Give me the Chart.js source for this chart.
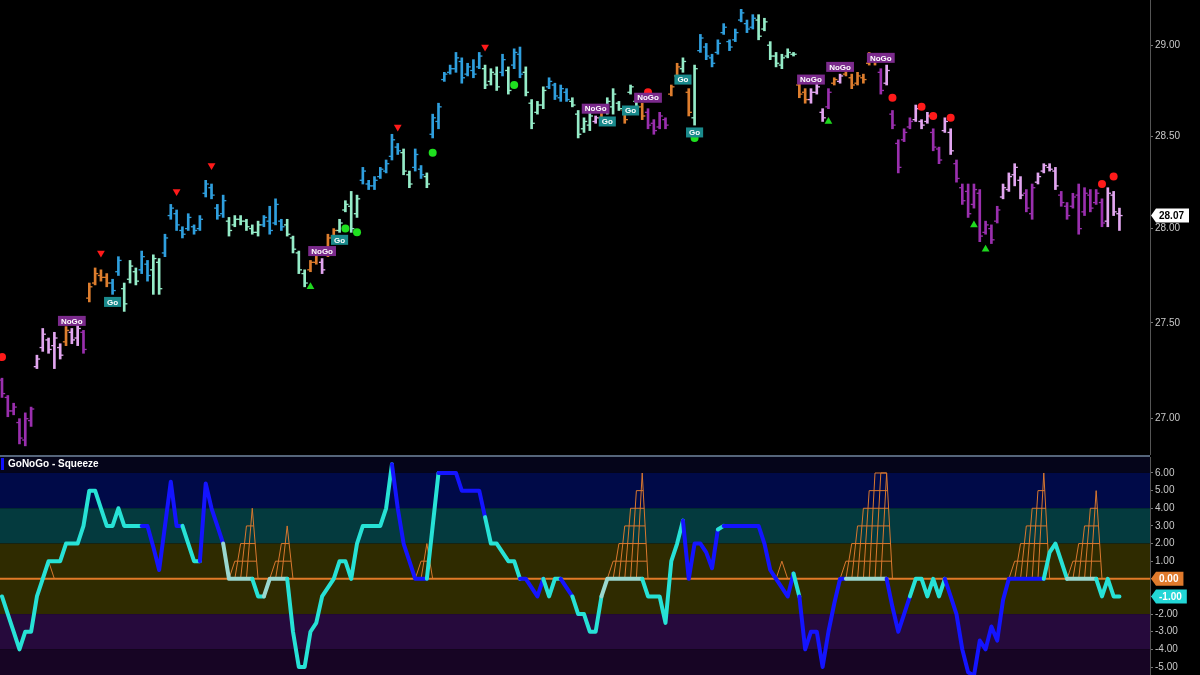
<!DOCTYPE html>
<html lang="en">
<head>
<meta charset="UTF-8">
<title>GoNoGo Trend / GoNoGo Squeeze</title>
<style>
  body { margin: 0; background: #000; width: 1200px; height: 675px; overflow: hidden; position: relative; }
  #priceWrap { position: absolute; left: 0; top: 0; width: 1200px; height: 455px; }
  #oscWrap { position: absolute; left: 0; top: 457px; width: 1200px; height: 218px; }
  .divider { position: absolute; left: 0; top: 455px; width: 1150px; height: 2px; background: #55657a; }
</style>
<script src="https://cdn.jsdelivr.net/npm/chart.js"></script>
</head>
<body>
<div id="priceWrap"><canvas id="priceChart" width="1200" height="455"></canvas></div>
<div class="divider"></div>
<div id="oscWrap"><canvas id="oscChart" width="1200" height="218"></canvas></div>

<script>
// ---- price bars (one per session) ----
const highs = [
  27.21, 27.12, 27.08, 27.00, 27.03, 27.06, 27.33, 27.47, 27.42, 27.45,
  27.39, 27.48, 27.47, 27.50, 27.46, 27.71, 27.79, 27.78, 27.76, 27.73,
  27.85, 27.71, 27.83, 27.79, 27.88, 27.83, 27.86, 27.84, 27.97, 28.13,
  28.10, 28.01, 28.08, 28.02, 28.07, 28.26, 28.24, 28.13, 28.18, 28.06,
  28.07, 28.07, 28.05, 28.02, 28.04, 28.07, 28.12, 28.16, 28.05, 28.05,
  27.96, 27.88, 27.78, 27.83, 27.89, 27.84, 27.97, 28.00, 28.05, 28.15,
  28.20, 28.18, 28.33, 28.26, 28.28, 28.33, 28.37, 28.51, 28.46, 28.43,
  28.31, 28.43, 28.34, 28.30, 28.62, 28.68, 28.85, 28.89, 28.96, 28.93,
  28.90, 28.92, 28.96, 28.89, 28.87, 28.88, 28.95, 28.88, 28.98, 28.99,
  28.88, 28.70, 28.69, 28.77, 28.82, 28.79, 28.78, 28.76, 28.71, 28.64,
  28.60, 28.63, 28.61, 28.64, 28.71, 28.76, 28.69, 28.65, 28.78, 28.70,
  28.68, 28.65, 28.59, 28.63, 28.60, 28.78, 28.90, 28.93, 28.76, 28.89,
  29.06, 29.01, 28.95, 29.03, 29.12, 29.03, 29.09, 29.20, 29.14, 29.17,
  29.17, 29.15, 29.02, 28.96, 28.95, 28.98, 28.96, 28.80, 28.76, 28.76,
  28.79, 28.65, 28.76, 28.82, 28.84, 28.87, 28.84, 28.85, 28.84, 28.96,
  28.95, 28.87, 28.89, 28.64, 28.48, 28.54, 28.60, 28.67, 28.59, 28.63,
  28.54, 28.44, 28.60, 28.54, 28.37, 28.24, 28.24, 28.24, 28.21, 28.04,
  28.02, 28.12, 28.24, 28.30, 28.35, 28.28, 28.21, 28.24, 28.30, 28.35,
  28.35, 28.33, 28.20, 28.14, 28.19, 28.24, 28.22, 28.21, 28.21, 28.16,
  28.22, 28.20, 28.11
];
const lows = [
  27.11, 27.01, 27.02, 26.87, 26.86, 26.96, 27.26, 27.35, 27.34, 27.26,
  27.31, 27.38, 27.39, 27.38, 27.34, 27.61, 27.70, 27.72, 27.69, 27.65,
  27.75, 27.56, 27.71, 27.70, 27.76, 27.72, 27.65, 27.65, 27.85, 28.05,
  27.99, 27.95, 27.99, 27.97, 27.99, 28.17, 28.16, 28.05, 28.06, 27.96,
  28.01, 28.02, 27.99, 27.97, 27.96, 28.01, 27.97, 28.02, 27.99, 27.96,
  27.87, 27.76, 27.69, 27.77, 27.81, 27.76, 27.85, 27.95, 27.98, 28.09,
  27.98, 28.06, 28.24, 28.21, 28.21, 28.27, 28.30, 28.37, 28.40, 28.29,
  28.22, 28.31, 28.27, 28.22, 28.49, 28.54, 28.80, 28.84, 28.85, 28.79,
  28.83, 28.82, 28.87, 28.76, 28.78, 28.75, 28.83, 28.73, 28.87, 28.82,
  28.72, 28.54, 28.62, 28.65, 28.76, 28.70, 28.69, 28.69, 28.66, 28.49,
  28.52, 28.53, 28.57, 28.59, 28.62, 28.62, 28.64, 28.57, 28.73, 28.64,
  28.59, 28.54, 28.51, 28.54, 28.54, 28.72, 28.82, 28.85, 28.61, 28.56,
  28.96, 28.92, 28.88, 28.95, 29.06, 28.97, 29.02, 29.13, 29.07, 29.09,
  29.03, 29.08, 28.92, 28.88, 28.87, 28.93, 28.94, 28.71, 28.68, 28.68,
  28.73, 28.58, 28.65, 28.78, 28.79, 28.83, 28.76, 28.78, 28.79, 28.89,
  28.89, 28.73, 28.78, 28.54, 28.30, 28.47, 28.54, 28.58, 28.54, 28.57,
  28.42, 28.35, 28.52, 28.40, 28.25, 28.13, 28.06, 28.11, 27.93, 27.97,
  27.92, 28.03, 28.16, 28.20, 28.23, 28.16, 28.09, 28.05, 28.24, 28.30,
  28.31, 28.21, 28.12, 28.05, 28.11, 27.97, 28.07, 28.09, 28.13, 28.01,
  28.01, 28.07, 27.99
];
const opens = [
  27.20, 27.11, 27.04, 26.98, 26.89, 26.99, 27.27, 27.37, 27.41, 27.38,
  27.37, 27.40, 27.45, 27.42, 27.45, 27.63, 27.71, 27.75, 27.74, 27.71,
  27.77, 27.68, 27.73, 27.77, 27.78, 27.81, 27.78, 27.82, 27.87, 28.07,
  28.08, 27.99, 28.00, 28.01, 28.00, 28.19, 28.22, 28.11, 28.08, 28.04,
  28.02, 28.05, 28.04, 28.00, 27.98, 28.02, 28.04, 28.03, 28.04, 28.02,
  27.95, 27.87, 27.76, 27.78, 27.82, 27.82, 27.86, 27.96, 27.99, 28.10,
  28.12, 28.08, 28.26, 28.24, 28.23, 28.28, 28.31, 28.39, 28.44, 28.41,
  28.29, 28.33, 28.32, 28.28, 28.51, 28.58, 28.81, 28.85, 28.87, 28.91,
  28.84, 28.86, 28.88, 28.87, 28.80, 28.84, 28.85, 28.86, 28.89, 28.95,
  28.85, 28.68, 28.63, 28.67, 28.77, 28.78, 28.71, 28.74, 28.69, 28.62,
  28.54, 28.56, 28.58, 28.60, 28.63, 28.66, 28.68, 28.64, 28.74, 28.69,
  28.66, 28.63, 28.57, 28.55, 28.59, 28.73, 28.83, 28.87, 28.74, 28.60,
  28.97, 28.99, 28.93, 28.96, 29.07, 29.02, 29.03, 29.14, 29.12, 29.10,
  29.14, 29.09, 29.00, 28.94, 28.89, 28.94, 28.95, 28.78, 28.74, 28.70,
  28.74, 28.63, 28.66, 28.79, 28.80, 28.84, 28.82, 28.79, 28.82, 28.90,
  28.93, 28.85, 28.79, 28.62, 28.46, 28.48, 28.55, 28.59, 28.58, 28.58,
  28.52, 28.43, 28.53, 28.52, 28.35, 28.22, 28.20, 28.13, 28.19, 27.98,
  28.00, 28.04, 28.17, 28.21, 28.29, 28.26, 28.19, 28.08, 28.25, 28.31,
  28.33, 28.31, 28.18, 28.12, 28.12, 28.18, 28.09, 28.18, 28.14, 28.14,
  28.04, 28.18, 28.08
];
const closes = [
  27.13, 27.04, 27.06, 26.90, 27.00, 27.05, 27.31, 27.44, 27.36, 27.42,
  27.33, 27.46, 27.41, 27.47, 27.36, 27.69, 27.76, 27.74, 27.71, 27.67,
  27.83, 27.60, 27.80, 27.72, 27.85, 27.75, 27.84, 27.68, 27.95, 28.11,
  28.02, 27.97, 28.06, 27.99, 28.05, 28.24, 28.18, 28.07, 28.15, 27.99,
  28.05, 28.04, 28.01, 27.98, 28.02, 28.06, 27.99, 28.13, 28.01, 27.97,
  27.89, 27.78, 27.71, 27.82, 27.87, 27.78, 27.95, 27.99, 28.03, 28.13,
  28.00, 28.16, 28.31, 28.23, 28.26, 28.32, 28.35, 28.48, 28.42, 28.31,
  28.24, 28.40, 28.29, 28.24, 28.60, 28.66, 28.84, 28.87, 28.93, 28.82,
  28.88, 28.84, 28.94, 28.78, 28.85, 28.77, 28.92, 28.75, 28.96, 28.84,
  28.74, 28.57, 28.67, 28.75, 28.80, 28.72, 28.76, 28.70, 28.67, 28.51,
  28.58, 28.61, 28.60, 28.63, 28.69, 28.73, 28.65, 28.59, 28.77, 28.66,
  28.61, 28.56, 28.53, 28.61, 28.56, 28.77, 28.88, 28.91, 28.63, 28.87,
  29.04, 28.94, 28.90, 29.01, 29.10, 28.99, 29.07, 29.18, 29.09, 29.15,
  29.05, 29.13, 28.94, 28.90, 28.93, 28.96, 28.95, 28.73, 28.70, 28.74,
  28.77, 28.60, 28.74, 28.81, 28.83, 28.86, 28.78, 28.83, 28.81, 28.94,
  28.91, 28.75, 28.86, 28.56, 28.33, 28.52, 28.58, 28.65, 28.56, 28.61,
  28.44, 28.37, 28.58, 28.42, 28.27, 28.15, 28.08, 28.21, 27.96, 28.02,
  27.94, 28.10, 28.22, 28.28, 28.33, 28.18, 28.11, 28.22, 28.28, 28.34,
  28.32, 28.23, 28.14, 28.07, 28.17, 28.00, 28.19, 28.11, 28.19, 28.03,
  28.19, 28.09, 28.07
];
// trend colour of each bar, run-length: p = strong NoGo, k = weak NoGo, o = NoGo fuzz, m = weak Go, b = strong Go
const trendRuns = [
  ['p', 6], ['k', 5], ['o', 1], ['k', 2], ['p', 1], ['o', 4], ['b', 2], ['m', 3], ['b', 2], ['m', 2],
  ['b', 11], ['m', 6], ['b', 4], ['m', 4], ['o', 2], ['k', 1], ['o', 2], ['m', 4], ['b', 7], ['m', 2],
  ['b', 2], ['m', 1], ['b', 9], ['m', 3], ['b', 1], ['m', 1], ['b', 2], ['m', 4], ['b', 4], ['m', 4],
  ['k', 1], ['o', 1], ['m', 3], ['o', 1], ['m', 2], ['o', 1], ['p', 4], ['o', 2], ['m', 1], ['o', 1],
  ['m', 1], ['b', 10], ['m', 7], ['o', 2], ['k', 3], ['p', 1], ['o', 1], ['k', 1], ['o', 6], ['p', 1],
  ['k', 1], ['p', 4], ['k', 3], ['p', 2], ['k', 2], ['p', 8], ['k', 4], ['p', 2], ['k', 4], ['p', 8],
  ['k', 3]
];
const priceTicks = [27.0, 27.5, 28.0, 28.5, 29.0];

// ---- signals on the price panel: [bar, price] ----
const redDots = [[0, 27.32], [111, 28.74], [153, 28.71], [158, 28.66], [160, 28.61], [163, 28.60], [189, 28.24], [191, 28.28]];
const redTriangles = [[17, 27.87], [30, 28.20], [36, 28.34], [68, 28.55], [83, 28.99]];
const greenDots = [[59, 28.00], [61, 27.98], [74, 28.41], [88, 28.78], [119, 28.49]];
const greenTriangles = [[53, 27.69], [142, 28.58], [167, 28.02], [169, 27.89]];
const signalLabels = [
  [12, 27.51, 'NoGo'], [19, 27.61, 'Go'], [55, 27.88, 'NoGo'], [58, 27.94, 'Go'],
  [102, 28.65, 'NoGo'], [104, 28.58, 'Go'], [108, 28.64, 'Go'], [111, 28.71, 'NoGo'],
  [117, 28.81, 'Go'], [119, 28.52, 'Go'], [139, 28.81, 'NoGo'], [144, 28.88, 'NoGo'], [151, 28.93, 'NoGo']
];

// ---- GoNoGo Squeeze oscillator ----
const oscillator = [
  -1, -2, -3, -4, -3, -3, -1, 0, 1, 1,
  1, 2, 2, 2, 3, 5, 5, 4, 3, 3,
  4, 3, 3, 3, 3, 3, 1.8, 0.5, 3, 5.5,
  3, 3, 2, 1, 1, 5.4, 4, 3, 2, 0,
  0, 0, 0, 0, -1, -1, 0, 0, 0, 0,
  -3, -5, -5, -3, -2.5, -1, -0.5, 0, 1, 1,
  0, 2, 3, 3, 3, 3, 4, 6.5, 4, 2,
  1, 0, 0, 0, 3, 6, 6, 6, 6, 5,
  5, 5, 5, 3.5, 2, 2, 1.5, 1, 1, 0,
  0, -0.5, -1, 0, -1, 0, 0, -0.5, -1, -2,
  -2, -3, -3, -1, 0, 0, 0, 0, 0, 0,
  0, -1, -1, -1, -2.5, 1, 2, 3.3, 0, 2,
  2, 1.5, 0.6, 2.8, 3, 3, 3, 3, 3, 3,
  3, 2, 0.5, 0, -0.5, -1, 0.3, -1, -4, -3,
  -3, -5, -3, -1.4, 0, 0, 0, 0, 0, 0,
  0, 0, 0, -1.6, -3, -2, -1, 0, 0, -1,
  0, -1, 0, -1, -2, -4, -5.3, -5.5, -3.5, -4,
  -2.7, -3.5, -1.2, 0, 0, 0, 0, 0, 0, 0,
  1.5, 2, 1, 0, 0, 0, 0, 0, 0, -1,
  0, -1, -1
];
// line colour, run-length: c = cyan, b = blue, l = pale (flat in squeeze)
const oscRuns = [
  ['b', 1], ['c', 24], ['b', 7], ['c', 3], ['b', 4], ['l', 5], ['c', 2], ['l', 4], ['c', 18], ['b', 6],
  ['c', 2], ['b', 8], ['c', 6], ['b', 4], ['c', 3], ['b', 2], ['c', 5], ['l', 7], ['c', 7], ['b', 6],
  ['c', 1], ['b', 12], ['c', 1], ['b', 8], ['l', 7], ['b', 4], ['c', 6], ['b', 17], ['c', 4], ['l', 5],
  ['c', 4]
];
// squeeze grids: [first bar, squeeze level at each bar]
const squeezeRuns = [
  [8, [1]], [40, [1, 2, 3, 4]], [47, [1, 2, 3]], [72, [1, 2]], [105, [1, 2, 3, 4, 5, 6]],
  [134, [1]], [145, [1, 2, 3, 4, 5, 6, 6, 6]], [174, [1, 2, 3, 4, 5, 6]], [184, [1, 2, 3, 4, 5]]
];
const oscTicks = [-5, -4, -3, -2, -1, 0, 1, 2, 3, 4, 5, 6];
// background zones: [from, to, colour]
const oscBands = [
  [6, 8, '#05051a'], [4, 6, '#000a48'], [2, 4, '#043a3e'],
  [-2, 2, '#2f2b00'], [-4, -2, '#260a3c'], [-7, -4, '#170524']
];

const FONT = "Arial, 'Liberation Sans', sans-serif";
const trendColors = { p: '#9a2fae', k: '#e2a6f0', o: '#de7e2e', m: '#95ecc8', b: '#2f9fde' };
const oscColors = { c: '#27e2d6', b: '#1414ff', l: '#9ad8cf' };
const X_MIN = -0.344, X_MAX = 197.25;

const expand = runs => runs.flatMap(([k, n]) => Array(n).fill(k));
const barTrend = expand(trendRuns);
const barColor = barTrend.map(k => trendColors[k]);
const oscColor = expand(oscRuns).map(k => oscColors[k]);

const pts = list => list.map(([i, v]) => ({ x: i, y: v }));

// right-hand value box with a pointed left side
function valueBox(ctx, x, y, text, fill, textColor) {
  ctx.font = 'bold 10px ' + FONT;
  const w = ctx.measureText(text).width + 8;
  ctx.beginPath();
  ctx.moveTo(x, y);
  ctx.lineTo(x + 5, y - 7);
  ctx.lineTo(x + 5 + w, y - 7);
  ctx.lineTo(x + 5 + w, y + 7);
  ctx.lineTo(x + 5, y + 7);
  ctx.closePath();
  ctx.fillStyle = fill;
  ctx.fill();
  ctx.fillStyle = textColor;
  ctx.textAlign = 'left';
  ctx.textBaseline = 'middle';
  ctx.fillText(text, x + 8, y + 0.5);
}

// Go / NoGo tags and the last price marker
const pricePlugin = {
  id: 'priceExtras',
  afterDraw(chart) {
    const { ctx, scales: { x, y } } = chart;
    ctx.save();
    ctx.font = 'bold 8px ' + FONT;
    ctx.textAlign = 'center';
    ctx.textBaseline = 'middle';
    signalLabels.forEach(([i, v, t]) => {
      const px = x.getPixelForValue(i), py = y.getPixelForValue(v);
      const w = ctx.measureText(t).width + 6, h = 10;
      ctx.fillStyle = t === 'Go' ? '#1a8a8c' : '#7b2a8c';
      ctx.fillRect(px - w / 2, py - h / 2, w, h);
      ctx.fillStyle = '#ffffff';
      ctx.fillText(t, px, py + 0.5);
    });
    valueBox(ctx, 1151, y.getPixelForValue(closes[closes.length - 1]),
      closes[closes.length - 1].toFixed(2), '#ffffff', '#000000');
    ctx.restore();
  }
};

const oscPlugin = {
  id: 'oscExtras',
  beforeDatasetsDraw(chart) {
    const { ctx, chartArea: a, scales: { y } } = chart;
    ctx.save();
    oscBands.forEach(([lo, hi, c]) => {
      const top = Math.max(a.top, y.getPixelForValue(hi));
      const bot = Math.min(a.bottom, y.getPixelForValue(lo));
      ctx.fillStyle = c;
      ctx.fillRect(a.left, top, a.right - a.left, bot - top);
    });
    ctx.restore();
  },
  afterDraw(chart) {
    const { ctx, scales: { y } } = chart;
    ctx.save();
    ctx.fillStyle = '#1010ff';
    ctx.fillRect(1, 1, 3, 12);
    ctx.font = 'bold 10px ' + FONT;
    ctx.fillStyle = '#ffffff';
    ctx.textAlign = 'left';
    ctx.textBaseline = 'middle';
    ctx.fillText('GoNoGo - Squeeze', 8, 7.5);
    valueBox(ctx, 1151, y.getPixelForValue(0), '0.00', '#e07a2c', '#ffffff');
    const last = oscillator[oscillator.length - 1];
    valueBox(ctx, 1151, y.getPixelForValue(last), last.toFixed(2), '#22d6d6', '#ffffff');
    ctx.restore();
  }
};

const hiddenX = { type: 'linear', min: X_MIN, max: X_MAX, display: false, offset: false };
const rightAxis = (ticks) => ({
  position: 'right',
  bounds: 'data',
  afterBuildTicks: s => { s.ticks = ticks.map(v => ({ value: v })); },
  // fixed axis width, and no extra room for half labels so the plot fills the panel height
  afterFit: s => { s.width = 50; s.paddingTop = 0; s.paddingBottom = 0; },
  ticks: { color: '#c8c8c8', font: { size: 10, family: FONT }, padding: 2, callback: v => Number(v).toFixed(2) },
  grid: { display: true, drawOnChartArea: false, drawTicks: true, tickLength: 3, color: '#777' },
  border: { display: true, color: '#555' }
});

const common = {
  responsive: false,
  animation: false,
  devicePixelRatio: 1,
  layout: { padding: 0, autoPadding: false },
  plugins: { legend: { display: false }, tooltip: { enabled: false } },
  events: []
};

// ---- price panel ----
const markerSet = (data, style, color, radius, rotation) => ({
  type: 'line', data: pts(data), showLine: false,
  pointStyle: style, pointRadius: radius, pointRotation: rotation || 0,
  pointBackgroundColor: color, pointBorderColor: color, pointBorderWidth: 0
});

new Chart(document.getElementById('priceChart'), {
  type: 'bar',
  data: {
    datasets: [
      markerSet(redDots, 'circle', '#ff1a1a', 4),
      markerSet(redTriangles, 'triangle', '#ff1a1a', 4.5, 180),
      markerSet(greenDots, 'circle', '#1fe01f', 4),
      markerSet(greenTriangles, 'triangle', '#1fd81f', 4.5),
      {
        type: 'line', showLine: false, pointStyle: 'line', pointRadius: 1.6, pointBorderWidth: 1.3,
        pointBorderColor: barColor, data: opens.map((v, i) => ({ x: i - 0.27, y: v }))
      },
      {
        type: 'line', showLine: false, pointStyle: 'line', pointRadius: 1.6, pointBorderWidth: 1.3,
        pointBorderColor: barColor, data: closes.map((v, i) => ({ x: i + 0.27, y: v }))
      },
      {
        type: 'bar', barThickness: 2, backgroundColor: barColor, borderWidth: 0,
        data: highs.map((h, i) => ({ x: i, y: [lows[i], h] }))
      }
    ]
  },
  options: {
    ...common,
    scales: {
      x: hiddenX,
      y: { type: 'logarithmic', min: 26.813, max: 29.252, ...rightAxis(priceTicks) }
    }
  },
  plugins: [pricePlugin]
});

// ---- squeeze panel ----
const coneSets = [];
squeezeRuns.forEach(([start, levels]) => {
  const end = start + levels.length - 1;
  const top = Math.max(...levels);
  levels.forEach((lv, k) => {
    const j = start + k;
    coneSets.push([{ x: j - 1, y: 0 }, { x: j, y: lv }, { x: end + 1 - lv / top, y: lv }]);
  });
  coneSets.push([{ x: end, y: top }, { x: end + 1, y: 0 }]);
});

new Chart(document.getElementById('oscChart'), {
  type: 'line',
  data: {
    datasets: [
      {
        data: oscillator.map((v, i) => ({ x: i, y: v })),
        borderWidth: 4, pointRadius: 0, borderColor: oscColors.c,
        borderCapStyle: 'round', borderJoinStyle: 'round',
        segment: { borderColor: c => oscColor[c.p1DataIndex] }
      },
      {
        data: [{ x: X_MIN, y: 0 }, { x: X_MAX, y: 0 }],
        borderWidth: 2, borderColor: '#e07a28', pointRadius: 0
      },
      ...coneSets.map(d => ({ data: d, borderWidth: 1, borderColor: '#d9782e', pointRadius: 0 }))
    ]
  },
  options: {
    ...common,
    scales: {
      x: hiddenX,
      y: { type: 'linear', min: -5.453, max: 6.907, ...rightAxis(oscTicks) }
    }
  },
  plugins: [oscPlugin]
});
</script>
</body>
</html>
